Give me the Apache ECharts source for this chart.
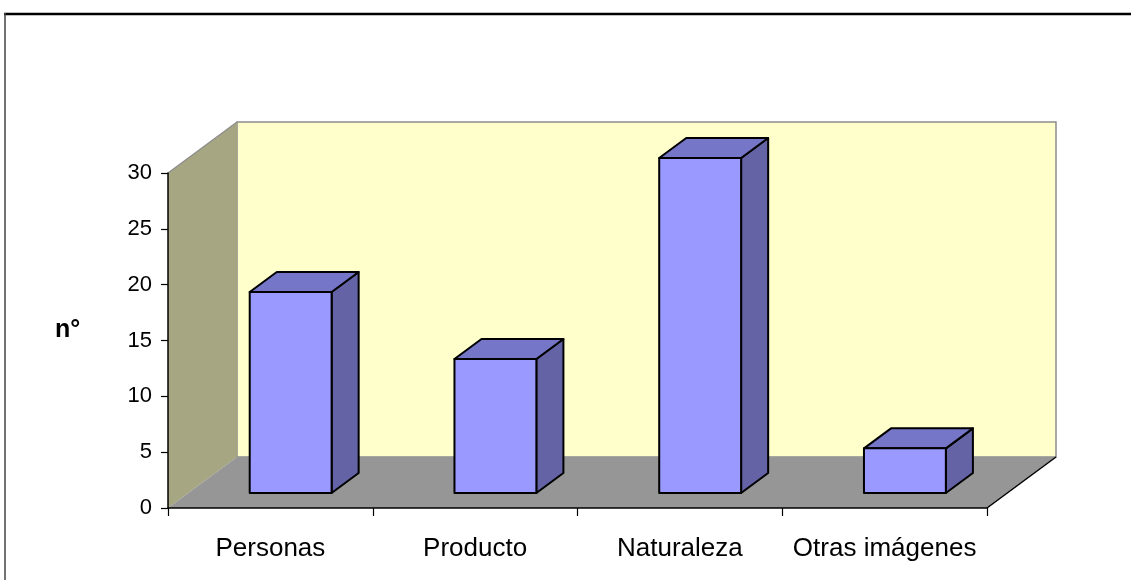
<!DOCTYPE html>
<html>
<head>
<meta charset="utf-8">
<script src="https://cdn.jsdelivr.net/npm/echarts@6/dist/echarts.min.js"></script>
<style>
html,body{margin:0;padding:0;background:#fff;}
#chart{width:1131px;height:580px;}
</style>
</head>
<body>
<div id="chart"></div>
<script>
// Data
const categories = ['Personas', 'Producto', 'Naturaleza', 'Otras imágenes'];
const values = [18, 12, 30, 4];
const yTicks = [0, 5, 10, 15, 20, 25, 30];
const yAxisName = 'n°';

// Style constants
const DEPTH = [69, -51];         // 3D depth vector (px)
const BAR_FRONT = 0.294;          // bar front position along depth
const BAR_BACK = 0.686;           // bar back position along depth
const BAR_W = 0.4;                // bar width as fraction of band
const FONT = '"Liberation Sans", Arial, sans-serif';

const chart = echarts.init(document.getElementById('chart'), null, {renderer: 'canvas'});

function wallsRender(params, api) {
  const cs = params.coordSys;
  const x0 = cs.x, x1 = cs.x + cs.width, y0 = cs.y, y1 = cs.y + cs.height;
  const dx = DEPTH[0], dy = DEPTH[1];
  return {
    type: 'group',
    children: [
      { type: 'polygon', shape: { points: [[x0 + dx, y0 + dy], [x1 + dx, y0 + dy], [x1 + dx, y1 + dy], [x0 + dx, y1 + dy]] },
        style: { fill: '#FFFFCC', stroke: '#8C8C8C', lineWidth: 1.5 } },
      { type: 'polygon', shape: { points: [[x0, y0], [x0 + dx, y0 + dy], [x0 + dx, y1 + dy], [x0, y1]] },
        style: { fill: '#A6A682', stroke: null } },
      { type: 'polyline', shape: { points: [[x0, y0], [x0 + dx, y0 + dy]] },
        style: { stroke: '#8C8C8C', lineWidth: 1.2, fill: null } },
      { type: 'polygon', shape: { points: [[x0, y1], [x0 + dx, y1 + dy], [x1 + dx, y1 + dy], [x1, y1]] },
        style: { fill: '#969696', stroke: null } },
      { type: 'polyline', shape: { points: [[x1, y1], [x1 + dx, y1 + dy]] },
        style: { stroke: '#000', lineWidth: 1.5, fill: null } }
    ]
  };
}

function barRender(params, api) {
  const idx = api.value(0);
  const val = api.value(1);
  const base = api.coord([idx, 0]);
  const top = api.coord([idx, val]);
  const bw = api.size([1, 0])[0];
  const w = bw * BAR_W;
  const fx = DEPTH[0] * BAR_FRONT, fy = DEPTH[1] * BAR_FRONT;
  const ddx = DEPTH[0] * (BAR_BACK - BAR_FRONT), ddy = DEPTH[1] * (BAR_BACK - BAR_FRONT);
  const L = base[0] - w / 2 + fx, R = base[0] + w / 2 + fx;
  const T = top[1] + fy, B = base[1] + fy;
  const st = { stroke: '#000', lineWidth: 2, lineJoin: 'round' };
  return {
    type: 'group',
    children: [
      { type: 'polygon', shape: { points: [[R, T], [R + ddx, T + ddy], [R + ddx, B + ddy], [R, B]] },
        style: Object.assign({ fill: '#6363A5' }, st) },
      { type: 'polygon', shape: { points: [[L, T], [L + ddx, T + ddy], [R + ddx, T + ddy], [R, T]] },
        style: Object.assign({ fill: '#7676C8' }, st) },
      { type: 'rect', shape: { x: L, y: T, width: R - L, height: B - T },
        style: Object.assign({ fill: '#9999FF' }, st) }
    ]
  };
}

const option = {
  backgroundColor: '#ffffff',
  animation: false,
  grid: { left: 168, right: 144, top: 173, bottom: 72, containLabel: false },
  xAxis: {
    type: 'category',
    data: categories,
    z: 10,
    axisLine: { show: true, lineStyle: { color: '#000', width: 1.5 } },
    axisTick: { show: true, length: 8, lineStyle: { color: '#000', width: 1.2 } },
    axisLabel: { color: '#000', fontSize: 26, fontFamily: FONT, margin: 28, interval: 0 },
    splitLine: { show: false }
  },
  yAxis: {
    type: 'value',
    min: yTicks[0],
    max: yTicks[yTicks.length - 1],
    interval: yTicks[1] - yTicks[0],
    z: 10,
    axisLine: { show: true, lineStyle: { color: '#000', width: 1.5 } },
    axisTick: { show: true, length: 7, lineStyle: { color: '#000', width: 1.2 } },
    axisLabel: { color: '#000', fontSize: 22, fontFamily: FONT, margin: 16 },
    splitLine: { show: false }
  },
  graphic: [
    { type: 'line', shape: { x1: 4, y1: 14, x2: 1131, y2: 14 }, style: { stroke: '#000', lineWidth: 2.5 } },
    { type: 'line', shape: { x1: 5, y1: 13, x2: 5, y2: 580 }, style: { stroke: '#444', lineWidth: 1.5 } },
    { type: 'text', left: 55, top: 318, style: { text: yAxisName, font: 'bold 25px ' + FONT, fill: '#000' } }
  ],
  series: [
    { type: 'custom', name: 'walls', z: 1, silent: true, renderItem: wallsRender, data: [[0, 0]] },
    { type: 'custom', name: 'bars', z: 5, renderItem: barRender,
      encode: { x: 0, y: 1 },
      data: values.map((v, i) => [i, v]) }
  ]
};
chart.setOption(option);
</script>
</body>
</html>
